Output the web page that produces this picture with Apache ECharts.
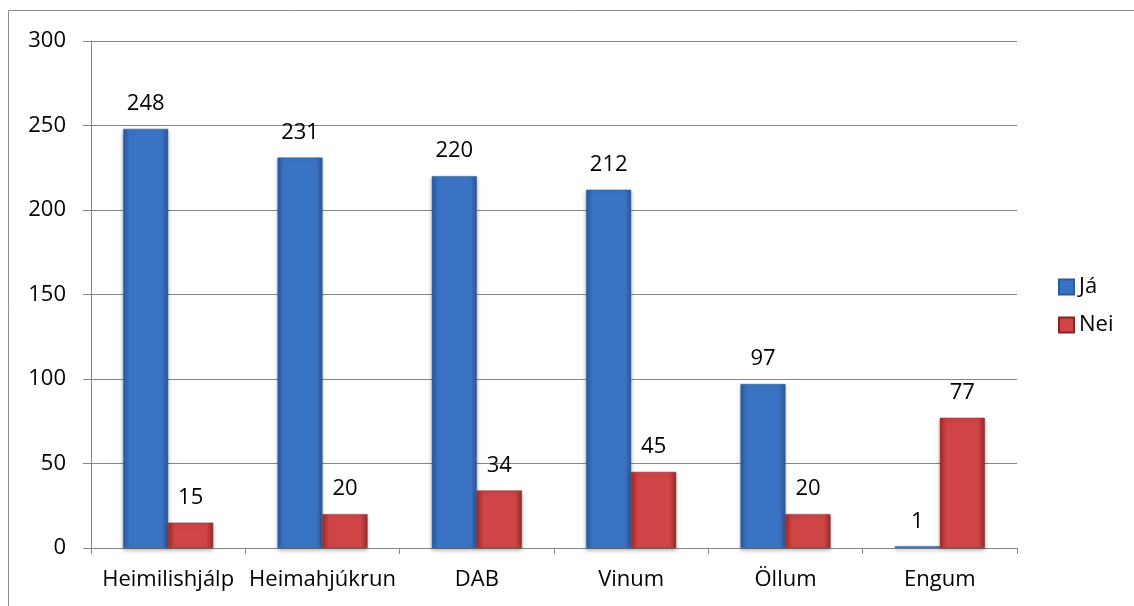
<!DOCTYPE html>
<html>
<head>
<meta charset="utf-8">
<script src="https://cdn.jsdelivr.net/npm/echarts@6/dist/echarts.min.js"></script>
<style>
  html, body { margin: 0; padding: 0; background: #fff; }
  #chart { width: 1134px; height: 606px; }
</style>
</head>
<body>
<div id="chart"></div>
<script>
const categories = ['Heimilishjálp', 'Heimahjúkrun', 'DAB', 'Vinum', 'Öllum', 'Engum']
const jaValues = [248, 231, 220, 212, 97, 1]
const neiValues = [15, 20, 34, 45, 20, 77]
const yTicks = { min: 0, max: 300, interval: 50 }

const font = '"Open Sans", Lato, sans-serif'

function barGradient(edge, mid) {
  return new echarts.graphic.LinearGradient(0, 0, 1, 0, [
    { offset: 0, color: edge },
    { offset: 0.15, color: mid },
    { offset: 0.85, color: mid },
    { offset: 1, color: edge }
  ])
}

const chart = echarts.init(document.getElementById('chart'))

chart.setOption({
  backgroundColor: '#fff',
  animation: false,
  textStyle: { fontFamily: font },
  graphic: [{
    type: 'rect',
    shape: { x: 8.5, y: 10.5, width: 1200, height: 700 },
    style: { fill: 'none', stroke: '#8c8c8c', lineWidth: 1 },
    silent: true
  }],
  grid: { left: 91, right: 117, top: 41, bottom: 58 },
  legend: {
    orient: 'vertical',
    left: 1053,
    top: 271,
    itemWidth: 15,
    itemHeight: 15,
    itemGap: 16,
    icon: 'rect',
    textStyle: { fontSize: 22, color: '#000', fontFamily: font },
    data: ['Já', 'Nei']
  },
  xAxis: {
    type: 'category',
    data: categories,
    axisLine: { lineStyle: { color: '#868686' } },
    axisTick: { show: true, length: 6, lineStyle: { color: '#868686' } },
    axisLabel: { color: '#000', fontSize: 22, margin: 21, interval: 0, hideOverlap: false, fontFamily: font }
  },
  yAxis: {
    type: 'value',
    min: yTicks.min,
    max: yTicks.max,
    interval: yTicks.interval,
    axisLine: { show: true, lineStyle: { color: '#868686' } },
    axisTick: { show: true, length: 8, lineStyle: { color: '#868686' } },
    axisLabel: { color: '#000', fontSize: 22, margin: 25, fontFamily: font },
    splitLine: { lineStyle: { color: '#868686' } }
  },
  series: [
    {
      name: 'Já',
      type: 'bar',
      data: jaValues,
      barWidth: 45,
      barGap: '0%',
      itemStyle: {
        color: barGradient('#2a5a9c', '#3b73c4'),
        borderColor: '#2c5a98',
        borderWidth: 0.5,
        shadowColor: 'rgba(0,0,0,0.3)',
        shadowBlur: 4,
        shadowOffsetY: 2
      },
      label: {
        show: true,
        position: 'top',
        distance: 14,
        color: '#000',
        fontSize: 22,
        fontFamily: font
      }
    },
    {
      name: 'Nei',
      type: 'bar',
      data: neiValues,
      barWidth: 45,
      itemStyle: {
        color: barGradient('#9c2a2a', '#d04545'),
        borderColor: '#8a2424',
        borderWidth: 0.5,
        shadowColor: 'rgba(0,0,0,0.3)',
        shadowBlur: 4,
        shadowOffsetY: 2
      },
      label: {
        show: true,
        position: 'top',
        distance: 14,
        color: '#000',
        fontSize: 22,
        fontFamily: font
      }
    }
  ]
})
</script>
</body>
</html>
